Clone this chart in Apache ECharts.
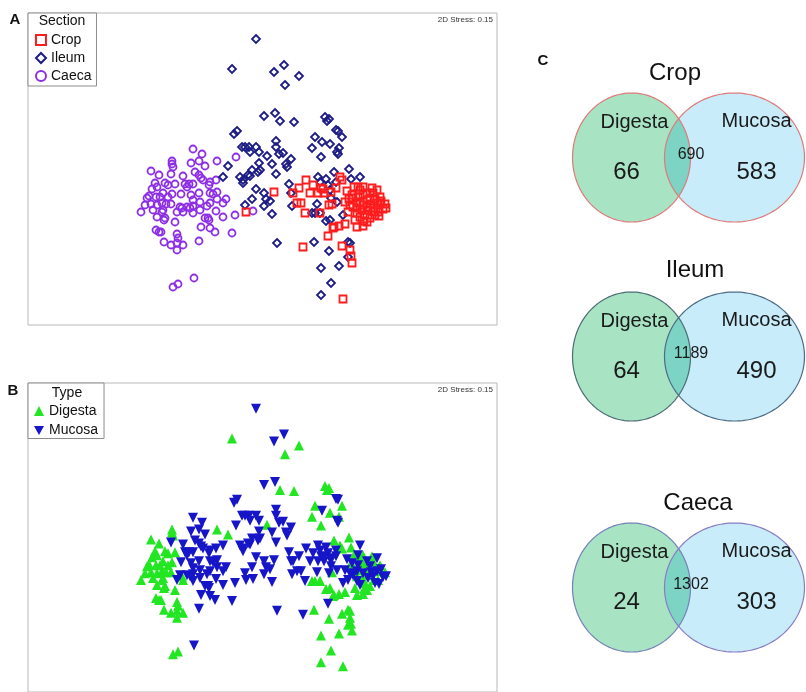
<!DOCTYPE html>
<html>
<head>
<meta charset="utf-8">
<script src="https://cdn.jsdelivr.net/npm/echarts@6/dist/echarts.min.js"></script>
<style>html,body{margin:0;padding:0;background:#fff;}#chart{width:806px;height:692px;}</style>
</head>
<body>
<div id="chart"></div>
<script>
// ---------- DATA ----------
// NMDS ordination (arbitrary units): [NMDS1, NMDS2]
const cropDigesta = [[0.78,-0.08],[0.80,-0.11],[0.58,-0.44],[0.72,-0.58],[0.77,-0.57],[0.83,-0.55],[0.80,-0.77],[0.88,-0.81],[0.89,-0.87],[0.90,-0.94],[0.81,-1.30],[0.95,-0.58],[1.01,-0.57],[0.92,-0.18],[0.98,-0.21],[1.01,-0.26],[1.13,-0.30],[1.18,-0.34],[1.23,-0.35],[1.03,-0.46],[1.08,-0.49],[1.16,-0.43],[0.98,-0.33],[1.05,-0.38],[0.91,-0.29],[1.11,-0.24],[1.10,-0.19],[1.01,-0.18],[0.71,-0.59],[0.70,-0.35],[0.93,-0.51],[1.05,-0.53],[1.18,-0.28],[1.00,-0.41],[1.05,-0.31],[1.12,-0.43],[1.02,-0.52],[0.95,-0.39],[0.87,-0.30]];
const cropMucosa = [[0.12,-0.23],[-0.16,-0.43],[0.31,-0.24],[0.37,-0.19],[0.44,-0.11],[0.51,-0.16],[0.48,-0.24],[0.59,-0.19],[0.56,-0.24],[0.62,-0.24],[0.69,-0.23],[0.74,-0.19],[0.85,-0.22],[0.83,-0.33],[0.35,-0.34],[0.39,-0.34],[0.43,-0.44],[0.67,-0.36],[0.66,-0.67],[0.41,-0.78],[1.05,-0.24],[1.08,-0.29],[1.15,-0.34],[1.21,-0.40],[1.11,-0.39],[1.06,-0.41],[0.98,-0.48],[0.95,-0.44],[0.91,-0.38],[0.88,-0.36],[1.13,-0.46],[0.95,-0.34],[1.01,-0.36],[0.96,-0.28],[0.96,-0.18],[0.86,-0.43],[1.24,-0.39],[1.15,-0.21],[1.09,-0.35],[0.90,-0.26],[1.17,-0.47],[1.19,-0.32],[0.61,-0.20]];
const ileumDigesta = [[-0.30,1.00],[0.37,0.93],[0.23,0.84],[0.18,0.48],[0.32,0.47],[0.63,0.52],[0.65,0.48],[0.67,0.50],[0.80,0.32],[0.53,0.32],[0.68,0.25],[0.50,0.21],[0.77,0.21],[0.05,0.13],[0.59,0.12],[-0.34,0.03],[0.72,-0.03],[0.87,0.00],[0.89,-0.10],[0.50,-0.44],[0.64,-0.52],[0.68,-0.51],[0.53,-0.44],[0.52,-0.73],[0.67,-0.82],[0.86,-0.73],[0.88,-0.74],[0.86,-0.88],[0.59,-0.99],[0.77,-0.97],[0.69,-1.14],[0.59,-1.26],[0.58,-0.44]];
const ileumMucosa = [[-0.06,1.30],[0.22,1.04],[0.12,0.97],[0.02,0.53],[0.13,0.56],[0.74,0.39],[0.76,0.38],[-0.25,0.38],[-0.28,0.35],[0.60,0.27],[0.75,0.17],[0.76,0.15],[0.14,0.28],[0.14,0.22],[-0.20,0.22],[-0.17,0.22],[-0.13,0.22],[-0.06,0.22],[-0.12,0.17],[-0.03,0.17],[0.17,0.15],[0.21,0.16],[0.29,0.10],[-0.03,0.06],[0.10,0.05],[0.24,0.05],[-0.39,-0.08],[-0.22,-0.08],[-0.12,-0.07],[-0.04,-0.03],[-0.02,-0.01],[0.14,-0.05],[-0.19,-0.14],[-0.06,-0.20],[0.02,-0.24],[0.04,-0.30],[0.08,-0.32],[-0.17,-0.36],[-0.10,-0.30],[0.02,-0.37],[0.10,-0.45],[0.56,-0.08],[0.64,-0.10],[0.68,-0.21],[0.69,-0.29],[0.55,-0.35],[0.29,-0.24],[0.30,-0.37],[0.15,-0.74],[0.98,-0.08],[0.74,-0.13],[0.66,-0.16],[0.58,-0.13],[0.75,-0.33],[0.81,-0.46],[0.25,0.02],[0.27,-0.15],[-0.10,-0.01],[-0.14,-0.06],[-0.19,-0.11]];
const caecaDigesta = [[-0.90,0.08],[-0.90,0.05],[-0.89,0.02],[-0.45,0.08],[-1.11,-0.02],[-1.03,-0.06],[-1.07,-0.14],[-0.97,-0.14],[-0.87,-0.15],[-1.10,-0.20],[-0.99,-0.24],[-0.90,-0.25],[-1.13,-0.27],[-1.15,-0.29],[-1.06,-0.28],[-0.94,-0.28],[-1.11,-0.35],[-1.05,-0.36],[-1.00,-0.34],[-0.96,-0.35],[-0.91,-0.35],[-1.21,-0.43],[-1.09,-0.41],[-1.00,-0.43],[-0.79,-0.43],[-1.05,-0.48],[-0.97,-0.49],[-0.87,-0.53],[-1.06,-0.61],[-1.01,-0.63],[-0.85,-0.65],[-0.98,-0.73],[-0.91,-0.76],[-0.85,-0.74],[-0.79,-0.76],[-0.85,-0.81],[-0.89,-1.18],[-0.84,-1.15],[-1.05,-0.18],[-1.02,-0.28],[-0.99,-0.41],[-0.98,-0.51],[-1.03,-0.63],[-0.84,-0.69],[-0.80,-0.39],[-1.17,-0.36],[-0.94,-0.16]];
const caecaMucosa = [[-0.69,0.20],[-0.60,0.15],[-0.71,0.06],[-0.63,0.08],[-0.57,0.03],[-0.26,0.12],[-0.91,-0.05],[-0.79,-0.07],[-0.67,-0.03],[-0.63,-0.06],[-0.61,-0.09],[-0.46,-0.11],[-0.77,-0.15],[-0.73,-0.15],[-0.69,-0.15],[-0.53,-0.16],[-0.81,-0.25],[-0.71,-0.26],[-0.63,-0.24],[-0.52,-0.24],[-0.45,-0.23],[-0.69,-0.31],[-0.62,-0.33],[-0.52,-0.34],[-0.39,-0.34],[-0.36,-0.30],[-0.82,-0.38],[-0.75,-0.38],[-0.69,-0.37],[-0.55,-0.37],[-0.85,-0.43],[-0.69,-0.44],[-0.62,-0.41],[-0.46,-0.42],[-0.27,-0.46],[-0.09,-0.42],[-0.57,-0.49],[-0.54,-0.49],[-0.39,-0.48],[-0.61,-0.58],[-0.52,-0.59],[-0.47,-0.63],[-0.30,-0.64],[-0.63,-0.72],[-0.68,-1.09],[-0.72,-0.39],[-0.59,-0.11],[-0.52,-0.13],[-0.49,-0.25],[-0.45,-0.30],[-0.75,-0.18],[-0.53,-0.51]];

// Venn counts (panel C)
const sections = ['Crop', 'Ileum', 'Caeca'];
const digestaOnly = [66, 64, 24];
const shared = [690, 1189, 1302];
const mucosaOnly = [583, 490, 303];
const stressLabel = '2D Stress: 0.15';

// ---------- STYLE / LAYOUT ----------
const FONT = "'Liberation Sans', Arial, sans-serif";
const vennBorder = [['#e07a7a', '#e07a7a'], ['#4d6d74', '#4d6c86'], ['#7482b8', '#8a7cc4']];
const vennTops = [93, 292, 523];
const vennTitlePos = [[675, 73], [695, 270], [698, 503]];
const GREEN = '#a8e3c4', BLUE = '#c8ecfa', OVERLAP = '#7dd4c4';

function ellPts(cx, cy, rx, ry, t0, t1, n) {
  const pts = [];
  for (let k = 0; k <= n; k++) {
    const t = t0 + (t1 - t0) * k / n;
    pts.push([cx + rx * Math.cos(t), cy + ry * Math.sin(t)]);
  }
  return pts;
}
function inside(p, cx, cy, rx, ry) {
  const a = (p[0] - cx) / rx, b = (p[1] - cy) / ry;
  return a * a + b * b <= 1;
}

function makeVenn(k) {
  return function (params, api) {
    const c = api.coord([api.value(0), api.value(1)]);
    const L = {cx: c[0] - 51.5, cy: c[1], rx: 59, ry: 64.5};
    const R = {cx: c[0] + 51.5, cy: c[1], rx: 70, ry: 64.5};
    const lp = ellPts(L.cx, L.cy, L.rx, L.ry, 0, Math.PI * 2, 160);
    const rp = ellPts(R.cx, R.cy, R.rx, R.ry, 0, Math.PI * 2, 160);
    const lens = ellPts(L.cx, L.cy, L.rx, L.ry, -Math.PI / 2, Math.PI / 2, 200).filter(p => inside(p, R.cx, R.cy, R.rx, R.ry))
      .concat(ellPts(R.cx, R.cy, R.rx, R.ry, Math.PI / 2, Math.PI * 1.5, 200).filter(p => inside(p, L.cx, L.cy, L.rx, L.ry)));
    const txt = (s, x, y, size) => ({
      type: 'text', x: x, y: y,
      style: {text: String(s), font: size + 'px ' + FONT, fill: '#1a1a1a',
        textAlign: 'center', textVerticalAlign: 'middle', align: 'center', verticalAlign: 'middle'}
    });
    return {
      type: 'group',
      children: [
        {type: 'polygon', shape: {points: lp}, style: {fill: GREEN}},
        {type: 'polygon', shape: {points: rp}, style: {fill: BLUE}},
        {type: 'polygon', shape: {points: lens}, style: {fill: OVERLAP}},
        {type: 'polygon', shape: {points: lp}, style: {fill: 'none', stroke: vennBorder[k][0], lineWidth: 1.2}},
        {type: 'polygon', shape: {points: rp}, style: {fill: 'none', stroke: vennBorder[k][1], lineWidth: 1.2}},
        txt('Digesta', L.cx + 3, c[1] - 35, 20),
        txt('Mucosa', R.cx + 22, c[1] - 36, 20),
        txt(api.value(2), L.cx - 5, c[1] + 15, 24),
        txt(api.value(3), c[0] + 8, c[1] - 3, 16),
        txt(api.value(4), R.cx + 22, c[1] + 15, 24)
      ]
    };
  };
}

const chart = echarts.init(document.getElementById('chart'), null, {renderer: 'canvas'});

const grids = [
  {left: 28, top: 13, width: 469, height: 312, show: true, borderColor: '#b9b9b9', borderWidth: 1, backgroundColor: '#fff'},
  {left: 28, top: 383, width: 469, height: 312, show: true, borderColor: '#b9b9b9', borderWidth: 1, backgroundColor: '#fff'}
];
const xAxes = [
  {gridIndex: 0, type: 'value', min: -2.34, max: 2.35, show: false},
  {gridIndex: 1, type: 'value', min: -2.34, max: 2.35, show: false}
];
const yAxes = [
  {gridIndex: 0, type: 'value', min: -1.56, max: 1.56, show: false},
  {gridIndex: 1, type: 'value', min: -1.56, max: 1.56, show: false}
];
const series = [
  {name: 'Caeca', type: 'scatter', xAxisIndex: 0, yAxisIndex: 0, data: caecaDigesta.concat(caecaMucosa),
    symbol: 'circle', symbolSize: 7, itemStyle: {color: 'rgba(255,255,255,0)', borderColor: '#8d2ee6', borderWidth: 1.8, opacity: 1}},
  {name: 'Ileum', type: 'scatter', xAxisIndex: 0, yAxisIndex: 0, data: ileumDigesta.concat(ileumMucosa),
    symbol: 'diamond', symbolSize: 8, itemStyle: {color: 'rgba(255,255,255,0)', borderColor: '#1c1c86', borderWidth: 1.8, opacity: 1}},
  {name: 'Crop', type: 'scatter', xAxisIndex: 0, yAxisIndex: 0, data: cropDigesta.concat(cropMucosa),
    symbol: 'rect', symbolSize: 7, itemStyle: {color: 'rgba(255,255,255,0)', borderColor: '#ff1c1c', borderWidth: 1.8, opacity: 1}},
  {name: 'Digesta', type: 'scatter', xAxisIndex: 1, yAxisIndex: 1, data: caecaDigesta.concat(ileumDigesta, cropDigesta),
    symbol: 'triangle', symbolSize: 10, itemStyle: {color: '#22e622', opacity: 1}},
  {name: 'Mucosa', type: 'scatter', xAxisIndex: 1, yAxisIndex: 1, data: caecaMucosa.concat(ileumMucosa, cropMucosa),
    symbol: 'triangle', symbolRotate: 180, symbolSize: 10, itemStyle: {color: '#1616c8', opacity: 1}}
];
series.forEach(s => { s.silent = true; });

sections.forEach((sec, k) => {
  grids.push({left: 560, top: vennTops[k], width: 251, height: 129});
  xAxes.push({gridIndex: 2 + k, type: 'category', data: [sec], show: false});
  yAxes.push({gridIndex: 2 + k, type: 'category', data: [sec], show: false});
  series.push({
    type: 'custom', name: 'venn' + sec, xAxisIndex: 2 + k, yAxisIndex: 2 + k, clip: false, silent: true,
    renderItem: makeVenn(k),
    data: [[sec, sec, digestaOnly[k], shared[k], mucosaOnly[k]]]
  });
});

const gtext = (text, x, y, size, opts) => ({
  type: 'text', x: x, y: y, z: 100,
  style: {text: text, font: (opts && opts.bold ? 'bold ' : '') + size + 'px ' + FONT, fill: (opts && opts.fill) || '#111',
    textAlign: (opts && opts.align) || 'center', textVerticalAlign: 'middle'}
});

const graphic = [
  gtext('A', 15, 20, 15, {bold: true}),
  gtext('B', 13, 391, 15, {bold: true}),
  gtext('C', 543, 61, 15, {bold: true}),
  gtext('Section', 62, 21, 14),
  gtext('Type', 67, 393, 14),
  gtext(stressLabel, 493, 20, 8, {align: 'right', fill: '#333'}),
  gtext(stressLabel, 493, 390, 8, {align: 'right', fill: '#333'})
];
sections.forEach((sec, k) => graphic.push(gtext(sec, vennTitlePos[k][0], vennTitlePos[k][1], 24)));

const legendCommon = {
  orient: 'vertical', backgroundColor: '#fff', borderColor: '#8c8c8c', borderWidth: 1,
  itemWidth: 10, itemHeight: 10, itemGap: 4, selectedMode: false,
  textStyle: {fontFamily: FONT, fontSize: 14, color: '#111', lineHeight: 14}
};

chart.setOption({
  animation: false,
  backgroundColor: '#fff',
  grid: grids,
  xAxis: xAxes,
  yAxis: yAxes,
  legend: [
    Object.assign({}, legendCommon, {left: 28, top: 13, padding: [20, 5, 3, 7], data: ['Crop', 'Ileum', 'Caeca']}),
    Object.assign({}, legendCommon, {left: 28, top: 383, padding: [21, 6, 1, 6], itemGap: 5.5,
      data: ['Digesta', {name: 'Mucosa', icon: 'path://M0,0L10,0L5,9Z'}]})
  ],
  series: series,
  graphic: graphic
});
</script>
</body>
</html>
